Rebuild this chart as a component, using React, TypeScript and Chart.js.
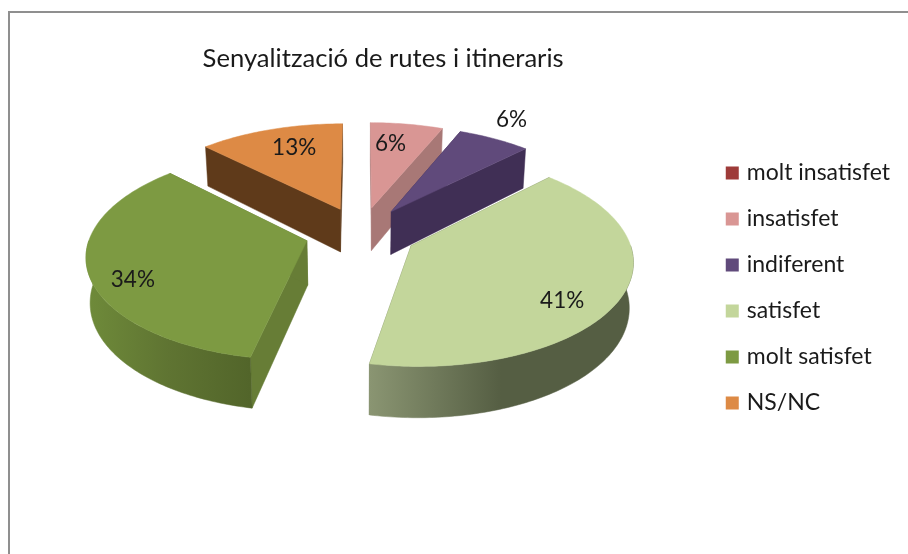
import React, { useEffect, useRef } from "react";
import { Chart, registerables } from "chart.js";

Chart.register(...registerables);

const TITLE = "Senyalització de rutes i itineraris";
const CATEGORIES = ["molt insatisfet", "insatisfet", "indiferent", "satisfet", "molt satisfet", "NS/NC"];
// Respondent counts that reproduce the printed shares 0/6/6/41/34/13 %
const VALUES = [0, 2, 2, 13, 11, 4];
const TOP_COLORS = ["#9e3b39", "#d99694", "#604a7b", "#c3d69b", "#7d9a42", "#dd8a45"];
const CUT_COLORS = ["#6e2928", "#a87876", "#402f55", "#6f7a58", "#677d36", "#5f3a1a"];
const WALL_STOPS: string[][] = [
  ["#6e2928", "#6e2928"],
  ["#a87876", "#a87876"],
  ["#402f55", "#402f55"],
  ["#8a9572", "#555e43", "#555e43"],
  ["#6f8b3a", "#5f7432", "#52652a"],
  ["#5f3a1a", "#5f3a1a"],
];
const LABEL_RADIUS = [0, 0.735, 1.27, 0.8, 0.83, 0.735];
const LABEL_ANGLE = [0.5, 0.36, 0.41, 0.568, 0.432, 0.564];
const DRAW_ORDER = [1, 5, 2, 4, 3];

const FONT = "Lato";
const VIEW = { cx: 361, cy: 233, k: 0.472, p: 0.127, depth: 44, shrink: 0.985 };

const pieView = {
  id: "pieView",
  beforeDatasetDraw(chart: any) {
    const { ctx } = chart;
    const meta = chart.getDatasetMeta(0);
    const arcs: any[] = meta.data;
    const R: number = arcs[0].outerRadius;

    const project = (u: number, v: number, low: boolean): [number, number] => {
      const s = 1 / (1 - (VIEW.p * v) / R);
      const f = low ? VIEW.shrink : 1;
      return [VIEW.cx + u * s * f, VIEW.cy + VIEW.k * v * s + (low ? VIEW.depth * s : 0)];
    };
    const poly = (pts: [number, number][], fill: any) => {
      ctx.beginPath();
      pts.forEach(([x, y], i) => (i ? ctx.lineTo(x, y) : ctx.moveTo(x, y)));
      ctx.closePath();
      ctx.fillStyle = fill;
      ctx.strokeStyle = fill;
      ctx.lineWidth = 0.5;
      ctx.fill();
      ctx.stroke();
    };

    for (const i of DRAW_ORDER) {
      const arc = arcs[i];
      const a0: number = arc.startAngle;
      const a1: number = arc.endAngle;
      if (a1 - a0 <= 0) continue;
      const mid = (a0 + a1) / 2;
      const ox = Math.cos(mid) * arc.options.offset;
      const oy = Math.sin(mid) * arc.options.offset;
      const rim = (a: number): [number, number] => [ox + Math.cos(a) * R, oy + Math.sin(a) * R];
      const steps = Math.max(2, Math.ceil(((a1 - a0) * 180) / Math.PI));
      const angle = (t: number) => a0 + ((a1 - a0) * t) / steps;

      // cut faces
      for (const a of [a0, a1]) {
        const [u, v] = rim(a);
        poly(
          [project(ox, oy, false), project(u, v, false), project(u, v, true), project(ox, oy, true)],
          CUT_COLORS[i],
        );
      }

      // outer wall, only on the half turned to the viewer
      const from = Math.max(a0, 0);
      const to = Math.min(a1, Math.PI);
      if (to > from) {
        const n = Math.ceil(((to - from) * 180) / Math.PI);
        const up: [number, number][] = [];
        const down: [number, number][] = [];
        for (let t = 0; t <= n; t++) {
          const [u, v] = rim(from + ((to - from) * t) / n);
          up.push(project(u, v, false));
          down.unshift(project(u, v, true));
        }
        const xs = up.map((q) => q[0]);
        const g = ctx.createLinearGradient(Math.min(...xs), 0, Math.max(...xs), 0);
        const stops = WALL_STOPS[i];
        stops.forEach((c, j) => g.addColorStop(j / (stops.length - 1), c));
        poly([...up, ...down], g);
      }

      // top face
      const top: [number, number][] = [project(ox, oy, false)];
      for (let t = 0; t <= steps; t++) {
        const [u, v] = rim(angle(t));
        top.push(project(u, v, false));
      }
      poly(top, TOP_COLORS[i]);
    }

    // value labels
    const total = VALUES.reduce((a, b) => a + b, 0);
    ctx.fillStyle = "#1a1a1a";
    ctx.font = `22.5px ${FONT}`;
    ctx.textAlign = "center";
    ctx.textBaseline = "middle";
    arcs.forEach((arc, i) => {
      if (!VALUES[i]) return;
      const mid = (arc.startAngle + arc.endAngle) / 2;
      const a = arc.startAngle + (arc.endAngle - arc.startAngle) * LABEL_ANGLE[i];
      const u = Math.cos(mid) * arc.options.offset + Math.cos(a) * R * LABEL_RADIUS[i];
      const v = Math.sin(mid) * arc.options.offset + Math.sin(a) * R * LABEL_RADIUS[i];
      const [x, y] = project(u, v, false);
      ctx.fillText(`${Math.round((VALUES[i] / total) * 100)}%`, x, y);
    });
    return false;
  },
};

export default function App() {
  const ref = useRef<HTMLCanvasElement>(null);
  useEffect(() => {
    document.body.style.margin = "0";
    document.body.style.background = "#fff";
    const base = (Chart as any).overrides.pie.plugins.legend.labels.generateLabels;
    const chart = new Chart(ref.current!, {
      type: "pie",
      data: {
        labels: CATEGORIES,
        datasets: [{ data: VALUES, backgroundColor: TOP_COLORS, borderWidth: 0, offset: 56, radius: 216 } as any],
      },
      plugins: [pieView as any],
      options: {
        responsive: false,
        animation: false,
        layout: { padding: { left: 60, right: 8, top: 22, bottom: 0 } },
        plugins: {
          tooltip: { enabled: false },
          title: {
            display: true,
            text: TITLE,
            fullSize: false,
            color: "#1a1a1a",
            font: { family: FONT, size: 25.6, weight: "normal" },
            padding: { top: 21, bottom: 10 },
          } as any,
          legend: {
            position: "right",
            labels: {
              color: "#1a1a1a",
              font: { family: FONT, size: 23 },
              boxWidth: 6,
              boxHeight: 6,
              padding: 23,
              generateLabels: (c: any) =>
                base(c).map((item: any) => ({ ...item, strokeStyle: item.fillStyle, lineWidth: 7 })),
            },
          },
        },
      },
    });
    return () => chart.destroy();
  }, []);
  return (
    <div style={{ position: "relative", width: 908, height: 554, overflow: "hidden" }}>
      <canvas ref={ref} width={908} height={554} style={{ display: "block" }} />
      <div
        style={{
          position: "absolute",
          left: 8,
          top: 11,
          right: 0,
          bottom: 0,
          borderLeft: "2px solid #8f8f8f",
          borderTop: "2px solid #8f8f8f",
          pointerEvents: "none",
        }}
      />
    </div>
  );
}
